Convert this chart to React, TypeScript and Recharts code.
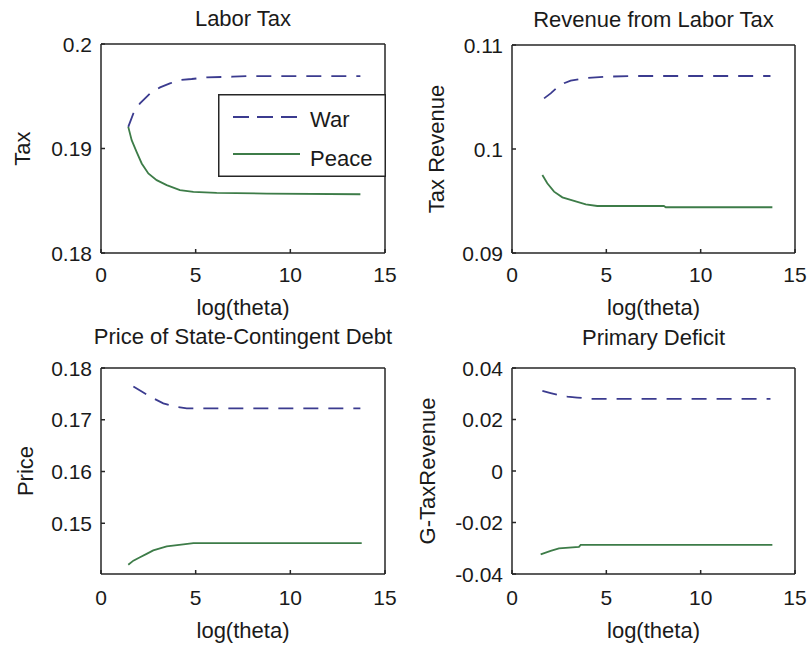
import { LineChart, Line, XAxis, YAxis, Legend } from 'recharts'

const FONT = '"Liberation Sans", Arial, Helvetica, sans-serif'
const warColor = '#3b3b8f'
const peaceColor = '#3d7c48'
const axisColor = '#262626'
const textColor = '#1a1a1a'
const warDash = '15 10'

// shared x axis
const xTicks = [0, 5, 10, 15]

// Labor Tax
const taxWarX = [1.44, 1.71, 2.06, 2.59, 3.12, 3.64, 4.17, 4.79, 5.58, 6.97, 7.87, 13.7]
const taxWarY = [0.19207, 0.19336, 0.19432, 0.19527, 0.19585, 0.19623, 0.19655, 0.19665, 0.19681, 0.19687, 0.19693, 0.19693]
const taxPeaceX = [1.44, 1.62, 1.88, 2.15, 2.5, 2.94, 3.47, 4.17, 4.88, 6.11, 8.75, 13.7]
const taxPeaceY = [0.19207, 0.1908, 0.18968, 0.18857, 0.18761, 0.18697, 0.18649, 0.18601, 0.18585, 0.18575, 0.18569, 0.18562]
const taxTicks = [0.18, 0.19, 0.2]

// Revenue from Labor Tax
const revWarX = [1.7, 2.05, 2.4, 2.76, 3.11, 3.82, 4.88, 6.64, 13.7]
const revWarY = [0.10487, 0.10535, 0.10593, 0.10632, 0.10657, 0.1068, 0.10695, 0.10702, 0.10702]
const revPeaceX = [1.61, 1.87, 2.23, 2.67, 3.11, 3.91, 4.52, 8.05, 8.15, 13.8]
const revPeaceY = [0.0975, 0.0967, 0.0959, 0.09535, 0.0951, 0.09468, 0.09452, 0.09452, 0.0944, 0.0944]
const revTicks = [0.09, 0.1, 0.11]

// Price of State-Contingent Debt
const priceWarX = [1.71, 2.15, 2.59, 3.29, 3.91, 4.53, 13.7]
const priceWarY = [0.17643, 0.17545, 0.17447, 0.17318, 0.17251, 0.1722, 0.1722]
const pricePeaceX = [1.44, 1.71, 2.06, 2.41, 2.76, 3.47, 4.35, 4.88, 13.77]
const pricePeaceY = [0.142, 0.14278, 0.14343, 0.14408, 0.14475, 0.14553, 0.14592, 0.14618, 0.14618]
const priceTicks = [0.15, 0.16, 0.17, 0.18]

// Primary Deficit
const defWarX = [1.61, 2.05, 2.4, 2.93, 3.46, 4.17, 13.7]
const defWarY = [0.03114, 0.03024, 0.02958, 0.02892, 0.02853, 0.02802, 0.02802]
const defPeaceX = [1.52, 2.05, 2.49, 3.55, 3.64, 13.8]
const defPeaceY = [-0.03235, -0.03102, -0.03001, -0.02946, -0.02868, -0.02868]
const defTicks = [-0.04, -0.02, 0, 0.02, 0.04]

const toPoints = (xs: number[], ys: number[]) => xs.map((x, i) => ({ x, y: ys[i] }))

// tick labels drawn by hand so the font size sticks
const XTick = (props: any) => (
  <text x={props.x} y={props.y} dy="0.71em" textAnchor="middle" fontSize={21} fill={textColor} fontFamily={FONT}>
    {String(props.payload.value)}
  </text>
)

const YTick = (props: any) => (
  <text x={props.x} y={props.y} dy="0.36em" textAnchor="end" fontSize={21} fill={textColor} fontFamily={FONT}>
    {String(props.payload.value)}
  </text>
)

const LegendBox = () => (
  <svg width={168} height={83} style={{ display: 'block' }}>
    <rect x={0.75} y={0.75} width={166.5} height={81.5} fill="#fff" stroke={axisColor} strokeWidth={1.5} />
    <line x1={15} x2={82} y1={23} y2={23} stroke={warColor} strokeWidth={1.8} strokeDasharray="16 8" />
    <text x={92} y={33} fontSize={22} fill={textColor} fontFamily={FONT}>War</text>
    <line x1={15} x2={82} y1={60} y2={60} stroke={peaceColor} strokeWidth={1.8} />
    <text x={92} y={72} fontSize={22} fill={textColor} fontFamily={FONT}>Peace</text>
  </svg>
)

interface PanelProps {
  title: string
  yLabel: string
  left: number
  top: number
  margin: { top: number; right: number; bottom: number; left: number }
  yAxisWidth: number
  xAxisHeight: number
  yDomain: [number, number]
  yTicks: number[]
  war: { x: number; y: number }[]
  peace: { x: number; y: number }[]
  titleOffset: number
  yLabelOffset: number
  xLabelOffset: number
  xTickMargin: number
  showLegend?: boolean
}

function Panel(p: PanelProps) {
  return (
    <div style={{ position: 'absolute', left: p.left, top: p.top }}>
      <LineChart width={404} height={325} margin={p.margin}>
        <XAxis
          type="number"
          dataKey="x"
          domain={[0, 15]}
          ticks={xTicks}
          allowDataOverflow
          stroke={axisColor}
          strokeWidth={1.5}
          tickSize={-4}
          tickMargin={p.xTickMargin}
          height={p.xAxisHeight}
          tick={<XTick />}
          label={{ value: 'log(theta)', position: 'insideBottom', offset: p.xLabelOffset, fill: textColor, fontSize: 22 }}
        />
        <XAxis
          xAxisId="top"
          orientation="top"
          type="number"
          dataKey="x"
          domain={[0, 15]}
          ticks={xTicks}
          allowDataOverflow
          stroke={axisColor}
          strokeWidth={1.5}
          tickSize={-4}
          tick={false}
          height={1}
          label={{ value: p.title, position: 'top', offset: p.titleOffset, fill: textColor, fontSize: 22 }}
        />
        <YAxis
          type="number"
          domain={p.yDomain}
          ticks={p.yTicks}
          allowDataOverflow
          stroke={axisColor}
          strokeWidth={1.5}
          tickSize={-4}
          tickMargin={13}
          width={p.yAxisWidth}
          tick={<YTick />}
          label={{
            value: p.yLabel,
            angle: -90,
            position: 'insideLeft',
            offset: p.yLabelOffset,
            fill: textColor,
            fontSize: 22,
            style: { textAnchor: 'middle' },
          }}
        />
        <YAxis
          yAxisId="right"
          orientation="right"
          type="number"
          domain={p.yDomain}
          ticks={p.yTicks}
          allowDataOverflow
          stroke={axisColor}
          strokeWidth={1.5}
          tickSize={-4}
          tick={false}
          width={1}
        />
        <Line
          data={p.war}
          dataKey="y"
          type="linear"
          stroke={warColor}
          strokeWidth={1.8}
          strokeDasharray={warDash}
          dot={false}
          isAnimationActive={false}
        />
        <Line
          data={p.peace}
          dataKey="y"
          type="linear"
          stroke={peaceColor}
          strokeWidth={1.8}
          dot={false}
          isAnimationActive={false}
        />
        {p.showLegend && (
          <Legend
            layout="vertical"
            align="center"
            verticalAlign="middle"
            content={() => <LegendBox />}
            wrapperStyle={{ left: 218, top: 94, width: 168, height: 83 }}
          />
        )}
      </LineChart>
    </div>
  )
}

export default function App() {
  return (
    <div style={{ position: 'absolute', left: 0, top: 0, width: 808, height: 650, background: '#fff', fontFamily: FONT }}>
      <Panel
        title="Labor Tax"
        yLabel="Tax"
        left={0}
        top={0}
        margin={{ top: 43, right: 18, bottom: 0, left: 0 }}
        yAxisWidth={101}
        xAxisHeight={72}
        yDomain={[0.18, 0.2]}
        yTicks={taxTicks}
        war={toPoints(taxWarX, taxWarY)}
        peace={toPoints(taxPeaceX, taxPeaceY)}
        titleOffset={17}
        yLabelOffset={22}
        xLabelOffset={10}
        xTickMargin={18}
        showLegend
      />
      <Panel
        title="Revenue from Labor Tax"
        yLabel="Tax Revenue"
        left={404}
        top={0}
        margin={{ top: 44, right: 12, bottom: 0, left: 0 }}
        yAxisWidth={108}
        xAxisHeight={72}
        yDomain={[0.09, 0.11]}
        yTicks={revTicks}
        war={toPoints(revWarX, revWarY)}
        peace={toPoints(revPeaceX, revPeaceY)}
        titleOffset={17}
        yLabelOffset={32}
        xLabelOffset={10}
        xTickMargin={18}
      />
      <Panel
        title="Price of State-Contingent Debt"
        yLabel="Price"
        left={0}
        top={325}
        margin={{ top: 42, right: 18, bottom: 0, left: 0 }}
        yAxisWidth={101}
        xAxisHeight={76}
        yDomain={[0.1402, 0.18]}
        yTicks={priceTicks}
        war={toPoints(priceWarX, priceWarY)}
        peace={toPoints(pricePeaceX, pricePeaceY)}
        titleOffset={23}
        yLabelOffset={25}
        xLabelOffset={12}
        xTickMargin={20}
      />
      <Panel
        title="Primary Deficit"
        yLabel="G-TaxRevenue"
        left={404}
        top={325}
        margin={{ top: 42, right: 12, bottom: 0, left: 0 }}
        yAxisWidth={108}
        xAxisHeight={76}
        yDomain={[-0.04, 0.04]}
        yTicks={defTicks}
        war={toPoints(defWarX, defWarY)}
        peace={toPoints(defPeaceX, defPeaceY)}
        titleOffset={22}
        yLabelOffset={23}
        xLabelOffset={12}
        xTickMargin={20}
      />
    </div>
  )
}
